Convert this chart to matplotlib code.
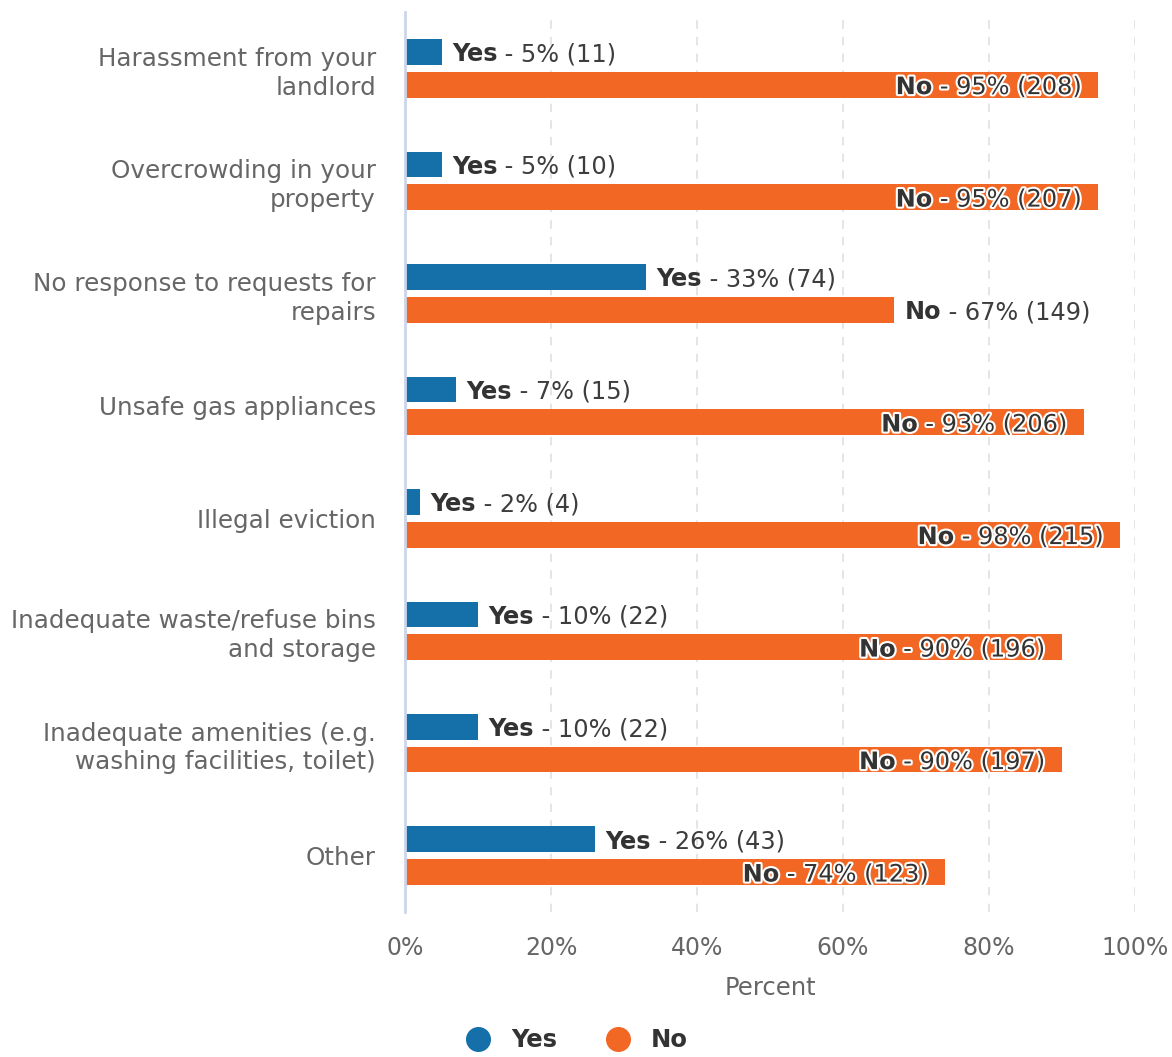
import matplotlib.pyplot as plt
import matplotlib.patheffects as pe
from matplotlib.lines import Line2D
import numpy as np

# ---- data
categories = [
    "Harassment from your\nlandlord",
    "Overcrowding in your\nproperty",
    "No response to requests for\nrepairs",
    "Unsafe gas appliances",
    "Illegal eviction",
    "Inadequate waste/refuse bins\nand storage",
    "Inadequate amenities (e.g.\nwashing facilities, toilet)",
    "Other",
]
yesPct = [5, 5, 33, 7, 2, 10, 10, 26]
yesCount = [11, 10, 74, 15, 4, 22, 22, 43]
noPct = [95, 95, 67, 93, 98, 90, 90, 74]
noCount = [208, 207, 149, 206, 215, 196, 197, 123]
xTicks = [0, 20, 40, 60, 80, 100]

YES_COLOR = "#1570a9"
NO_COLOR = "#f26724"
LABEL_DARK = "#333333"
GREY = "#666666"

plt.rcParams["font.family"] = ["DejaVu Sans"]

fig = plt.figure(figsize=(11.72, 10.57), dpi=100)
ax = fig.add_axes([0.3456, 0.1372, 0.6228, 0.8514])

y = np.arange(len(categories))
h = 0.23
off = 0.145

ax.barh(y - off, yesPct, height=h, color=YES_COLOR, zorder=3)
ax.barh(y + off, noPct, height=h, color=NO_COLOR, zorder=3)

ax.set_xlim(0, 100)
ax.set_ylim(len(categories) - 0.5, -0.5)

ax.set_yticks(y)
ax.set_yticklabels(categories, fontsize=17.7, color=GREY, linespacing=1.25)
ax.set_xticks(xTicks)
ax.set_xticklabels([f"{t}%" for t in xTicks], fontsize=17, color=GREY)
ax.tick_params(axis="y", length=0, pad=21)
ax.tick_params(axis="x", length=0, pad=17)
ax.set_xlabel("Percent", fontsize=17.5, color=GREY, labelpad=12)

for s in ["top", "right", "bottom"]:
    ax.spines[s].set_visible(False)
ax.spines["left"].set_color("#ccd6eb")
ax.spines["left"].set_linewidth(2)
ax.spines["left"].set_zorder(4)

for t in xTicks[1:]:
    ax.axvline(t, color="#e0e0e0", linestyle=(0, (5, 5)), linewidth=1.2, zorder=1)

LFS = 17.3


def outsideLabel(word, pct, count, yy):
    # bold word, then the rest, just right of the bar end
    b = ax.annotate(word, xy=(pct, yy), xytext=(7.5, 0), textcoords="offset points",
                    fontsize=LFS, fontweight="bold", color=LABEL_DARK,
                    va="center_baseline", ha="left", zorder=5)
    ax.annotate(f" - {pct}% ({count})", xy=(1, yy), xycoords=(b, "data"),
                fontsize=LFS, color="#3d3d3d", va="center_baseline", ha="left", zorder=5)


def insideLabel(word, pct, count, yy):
    stroke = [pe.withStroke(linewidth=3, foreground="white")]
    r = ax.annotate(f" - {pct}% ({count})", xy=(pct, yy), xytext=(-12, 0),
                    textcoords="offset points", fontsize=LFS, color=LABEL_DARK,
                    va="center_baseline", ha="right", zorder=5, path_effects=stroke)
    ax.annotate(word, xy=(0, yy), xycoords=(r, "data"), fontsize=LFS,
                fontweight="bold", color=LABEL_DARK, va="center_baseline",
                ha="right", zorder=5, path_effects=stroke)


for i in range(len(categories)):
    outsideLabel("Yes", yesPct[i], yesCount[i], y[i] - off)
    if noPct[i] >= 70:
        insideLabel("No", noPct[i], noCount[i], y[i] + off)
    else:
        outsideLabel("No", noPct[i], noCount[i], y[i] + off)

handles = [
    Line2D([], [], marker="o", linestyle="", markersize=17, color=YES_COLOR),
    Line2D([], [], marker="o", linestyle="", markersize=17, color=NO_COLOR),
]
leg = fig.legend(handles, ["Yes", "No"], loc="lower center", ncol=2,
                 bbox_to_anchor=(0.487, -0.016), frameon=False,
                 prop={"size": 17.5, "weight": "bold"}, handletextpad=0.35,
                 columnspacing=1.5)
for t in leg.get_texts():
    t.set_color(LABEL_DARK)

fig.savefig("out.png", dpi=100, facecolor="white")
